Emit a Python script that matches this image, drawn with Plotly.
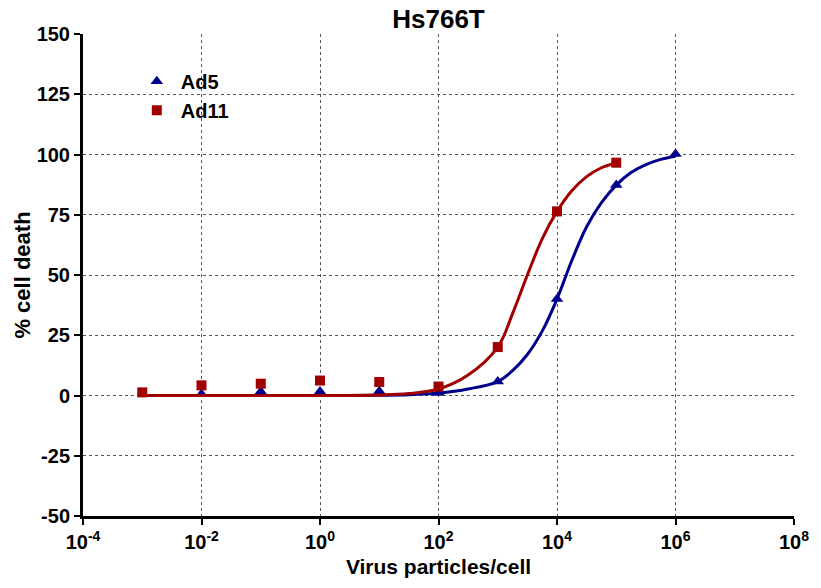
import plotly.graph_objects as go

# ---- data ----
ad5_x = [0.01, 0.1, 1, 10, 100, 1000, 1e4, 1e5, 1e6]
ad5_y = [0.6, 1.7, 1.7, 1.8, 1.0, 5.8, 40.0, 87.3, 100.2]

ad11_x = [0.001, 0.01, 0.1, 1, 10, 100, 1000, 1e4, 1e5]
ad11_y = [1.3, 4.2, 4.9, 6.2, 5.6, 3.7, 20.1, 76.4, 96.6]

# fitted curves
ad5_fit_x = [0.01, 0.1, 1, 10, 31.6, 100, 316, 1000, 1778, 3162, 5623, 1e4,
             17783, 31623, 56234, 1e5, 177828, 316228, 562341, 1e6]
ad5_fit_y = [0.0, 0.0, 0.0, 0.1, 0.3, 1.0, 2.7, 5.8, 10.3, 17.0, 26.7, 40.0,
             56.0, 70.0, 80.0, 87.3, 92.5, 95.8, 98.0, 99.3]

ad11_fit_x = [0.001, 0.01, 0.1, 1, 10, 31.6, 100, 316, 1000, 1778, 3162, 5623,
              1e4, 17783, 31623, 56234, 1e5]
ad11_fit_y = [0.0, 0.0, 0.0, 0.0, 0.2, 0.8, 2.7, 8.5, 20.1, 34.0, 50.0, 65.0,
              76.4, 85.0, 90.8, 94.5, 96.6]

x_tickvals = [1e-4, 1e-2, 1, 1e2, 1e4, 1e6, 1e8]
x_ticktext = ["10<sup>-4</sup>", "10<sup>-2</sup>", "10<sup>0</sup>", "10<sup>2</sup>",
              "10<sup>4</sup>", "10<sup>6</sup>", "10<sup>8</sup>"]
y_tickvals = [-50, -25, 0, 25, 50, 75, 100, 125, 150]
y_ticktext = ["-50", "-25", "0", "25", "50", "75", "100", "125", "150"]

BLUE = "#00008B"
RED = "#A00000"
FONT = "Arial, Liberation Sans, sans-serif"

fig = go.Figure()

fig.add_trace(go.Scatter(x=ad5_fit_x, y=ad5_fit_y, mode="lines",
                         line=dict(color=BLUE, width=3, shape="spline", smoothing=1.0),
                         showlegend=False, hoverinfo="skip"))
fig.add_trace(go.Scatter(x=ad5_x, y=ad5_y, mode="markers", name="Ad5", legendgroup="a",
                         marker=dict(symbol="triangle-up", size=11, color=BLUE)))
fig.add_trace(go.Scatter(x=ad11_fit_x, y=ad11_fit_y, mode="lines",
                         line=dict(color=RED, width=3, shape="spline", smoothing=1.0),
                         showlegend=False, hoverinfo="skip"))
fig.add_trace(go.Scatter(x=ad11_x, y=ad11_y, mode="markers", name="Ad11", legendgroup="b",
                         marker=dict(symbol="square", size=10, color=RED)))

axis_common = dict(
    showline=True, linecolor="black", linewidth=3,
    ticks="outside", tickcolor="black", tickwidth=2, ticklen=6,
    showgrid=True, gridcolor="#555555", gridwidth=1, griddash="dot",
    zeroline=False, mirror=False,
    tickfont=dict(family=FONT, size=20, color="black", weight="bold"),
)

fig.update_layout(
    width=821, height=588,
    margin=dict(l=83, r=24, t=34, b=68),
    paper_bgcolor="white", plot_bgcolor="white",
    title=dict(text="Hs766T", x=(440 - 83) / 714, xref="paper", xanchor="center",
               y=1 - 19 / 588, yanchor="middle",
               font=dict(family=FONT, size=26, color="black", weight="bold")),
    xaxis=dict(type="log", range=[-4, 8], tickvals=x_tickvals, ticktext=x_ticktext,
               title=dict(text="Virus particles/cell", standoff=8,
                          font=dict(family=FONT, size=21, color="black", weight="bold")),
               **axis_common),
    yaxis=dict(range=[-50, 150], tickvals=y_tickvals, ticktext=y_ticktext,
               title=dict(text="% cell death", standoff=0,
                          font=dict(family=FONT, size=22, color="black", weight="bold")),
               **axis_common),
    legend=dict(x=(133 - 83) / 714, y=1 - (62 - 34) / 486, xanchor="left", yanchor="top",
                bgcolor="rgba(0,0,0,0)", itemwidth=38, traceorder="grouped",
                tracegroupgap=0,
                font=dict(family=FONT, size=20, color="black", weight="bold")),
    showlegend=True,
)

fig.write_html("out.html")
